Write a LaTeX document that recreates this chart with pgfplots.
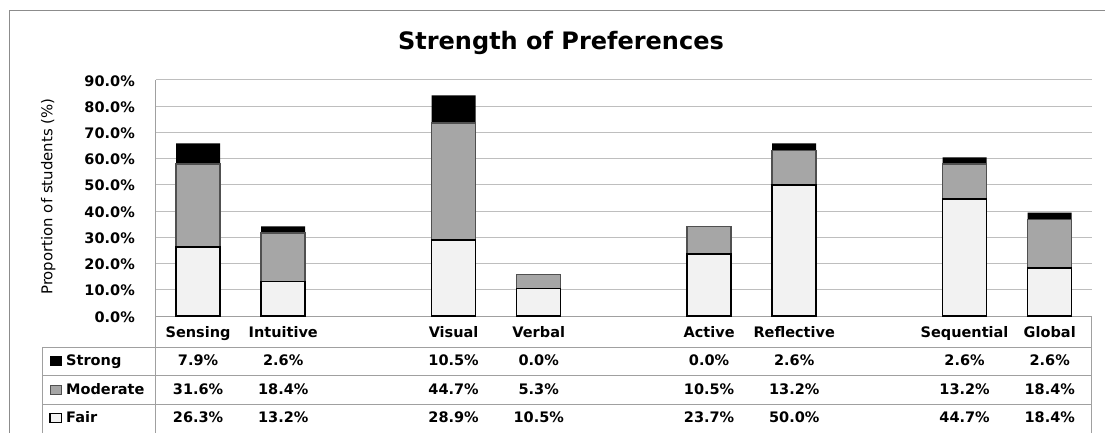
\documentclass[border=0pt]{standalone}
\usepackage{pgfplots}
\usepackage{pgfplotstable}
\pgfplotsset{compat=1.18}
\usepackage{fontspec}
\setmainfont{DejaVu Sans}
\definecolor{fairc}{HTML}{F2F2F2}
\definecolor{modc}{HTML}{A6A6A6}
\definecolor{modb}{HTML}{505050}
\definecolor{gridc}{HTML}{BEBEBE}
\definecolor{linec}{HTML}{A0A0A0}
\definecolor{framec}{HTML}{8C8C8C}
\pgfplotstableread{
x cat Fair Moderate Strong
0 Sensing 26.3 31.6 7.9
1 Intuitive 13.2 18.4 2.6
3 Visual 28.9 44.7 10.5
4 Verbal 10.5 5.3 0.0
6 Active 23.7 10.5 0.0
7 Reflective 50.0 13.2 2.6
9 Sequential 44.7 13.2 2.6
10 Global 18.4 18.4 2.6
}\datatable
\pgfplotsset{/pgf/number format/assume math mode=true}
\newcommand\tfont{\fontsize{14.5}{17}\selectfont\bfseries}
\begin{document}
\begin{tikzpicture}[x=1pt,y=1pt]
\useasboundingbox (0,0) rectangle (1105,432);
\draw[framec, line width=1pt] (9.5,-10) rectangle (1120,421.3);
\node[anchor=base, font=\fontsize{24}{28}\selectfont\bfseries] at (561,382.7) {Strength of Preferences};
\node[rotate=90, font=\fontsize{14.9}{17}\selectfont] at (48.3,235.3) {Proportion of students (\%)};
\begin{axis}[
  at={(155.5pt,116pt)}, anchor=south west,
  scale only axis, width=936.8pt, height=236pt,
  xmin=-0.5, xmax=10.5, ymin=0, ymax=90,
  ybar stacked, bar width=44pt,
  xtick=\empty,
  ytick={0,10,...,90},
  yticklabel={\pgfmathprintnumber[fixed,fixed zerofill,precision=1]{\tick}\%},
  yticklabel style={font=\tfont, anchor=east, inner sep=0pt, xshift=-20.5pt, yshift=-0.8pt},
  major tick length=0pt,
  axis x line*=bottom, axis y line*=left,
  axis line style={linec, line width=1pt},
  ymajorgrids, grid style={gridc, line width=1pt},
]
\addplot[fill=fairc, draw=black, line width=1.5pt] table[x=x,y=Fair]{\datatable};
\addplot[fill=modc, draw=modb, line width=1.5pt] table[x=x,y=Moderate]{\datatable};
\addplot[fill=black, draw=none] table[x=x,y=Strong]{\datatable};
\end{axis}
% data table
\foreach \Y in {84.7,56.3,28} \draw[linec, line width=1pt] (42,\Y) -- (1091.7,\Y);
\draw[linec, line width=1pt] (42,84.7) -- (42,-5);
\draw[linec, line width=1pt] (155.5,116) -- (155.5,-5);
\draw[linec, line width=1pt] (1091.7,116) -- (1091.7,-5);
% legend keys
\fill[black] (49.5,66.2) rectangle (62,76.2);
\filldraw[fill=modc, draw=modb, line width=1pt] (50,37.7) rectangle (61.5,46.7);
\filldraw[fill=fairc, draw=black, line width=1.2pt] (50,9.9) rectangle (61.5,18.9);
\node[anchor=base west, inner sep=0pt, font=\tfont] at (66,66.7) {Strong};
\node[anchor=base west, inner sep=0pt, font=\tfont] at (66,37.7) {Moderate};
\node[anchor=base west, inner sep=0pt, font=\tfont] at (66,9.3) {Fair};
\pgfplotstablegetrowsof{\datatable}
\pgfmathtruncatemacro\lastrow{\pgfplotsretval-1}
\foreach \i in {0,...,\lastrow}{
  \pgfplotstablegetelem{\i}{x}\of\datatable
  \pgfmathsetmacro\px{155.5+(\pgfplotsretval+0.5)*85.1636}
  \pgfplotstablegetelem{\i}{cat}\of\datatable \let\vcat\pgfplotsretval
  \pgfplotstablegetelem{\i}{Strong}\of\datatable \let\vst\pgfplotsretval
  \pgfplotstablegetelem{\i}{Moderate}\of\datatable \let\vmo\pgfplotsretval
  \pgfplotstablegetelem{\i}{Fair}\of\datatable \let\vfa\pgfplotsretval
  \node[anchor=base, inner sep=0pt, font=\tfont] at (\px,94.7) {\vcat};
  \node[anchor=base, inner sep=0pt, font=\tfont] at (\px,66.7) {\pgfmathprintnumber[fixed,fixed zerofill,precision=1]{\vst}\%};
  \node[anchor=base, inner sep=0pt, font=\tfont] at (\px,37.7) {\pgfmathprintnumber[fixed,fixed zerofill,precision=1]{\vmo}\%};
  \node[anchor=base, inner sep=0pt, font=\tfont] at (\px,9.3) {\pgfmathprintnumber[fixed,fixed zerofill,precision=1]{\vfa}\%};
}
\end{tikzpicture}
\end{document}
